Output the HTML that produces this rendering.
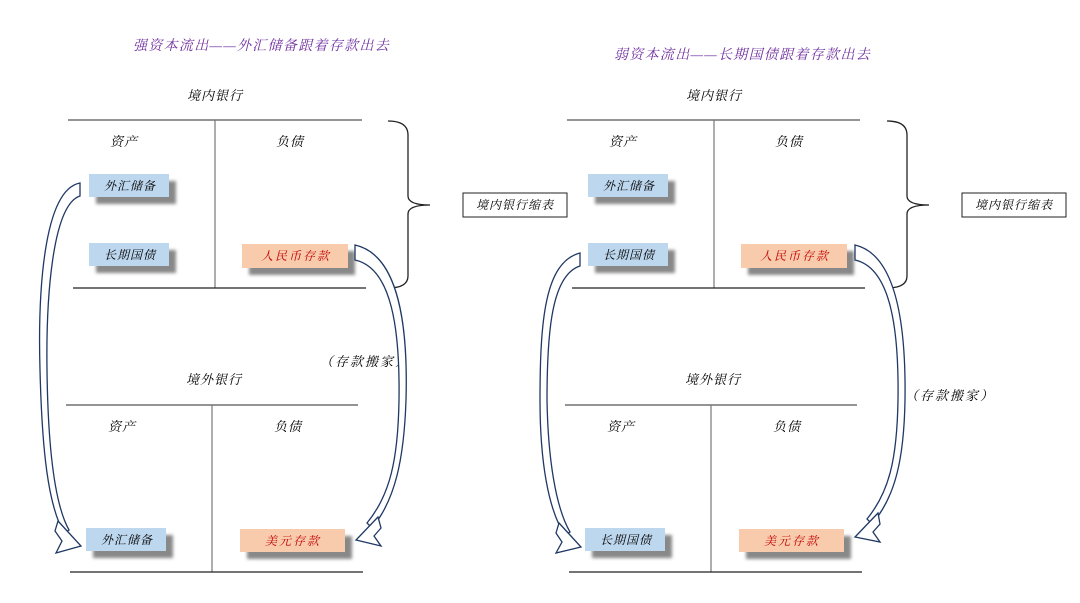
<!DOCTYPE html>
<html><head><meta charset="utf-8"><style>
html,body{margin:0;padding:0;background:#fff;}
svg text{font-family:"Liberation Serif","Noto Serif CJK SC",serif;font-style:italic;}
</style></head><body>
<svg width="1080" height="598" viewBox="0 0 1080 598" xmlns="http://www.w3.org/2000/svg">
<defs>
<filter id="sh" x="-20%" y="-20%" width="150%" height="170%"><feGaussianBlur stdDeviation="1.5"/></filter>
</defs>

<!-- ===== LEFT PANEL ===== -->
<text x="133" y="50" font-size="14" letter-spacing="1.3" fill="#7030a0">强资本流出——外汇储备跟着存款出去</text>
<text x="215" y="100" font-size="13" letter-spacing="1" text-anchor="middle" fill="#000">境内银行</text>
<line x1="68" y1="120" x2="362" y2="120" stroke="#555" stroke-width="1.2"/>
<line x1="215" y1="120" x2="215" y2="288" stroke="#777" stroke-width="1.2"/>
<line x1="73" y1="288" x2="366" y2="288" stroke="#222" stroke-width="1.2"/>
<text x="124" y="146" font-size="13" letter-spacing="1" text-anchor="middle">资产</text>
<text x="290" y="146" font-size="13" letter-spacing="1" text-anchor="middle">负债</text>

<rect x="96" y="181" width="80" height="23" fill="#888" filter="url(#sh)"/>
<rect x="89" y="174" width="80" height="23" fill="#bdd7ee"/>
<text x="130" y="190" font-size="12" letter-spacing="1" text-anchor="middle">外汇储备</text>
<rect x="96" y="250" width="80" height="23" fill="#888" filter="url(#sh)"/>
<rect x="89" y="243" width="80" height="23" fill="#bdd7ee"/>
<text x="130" y="259" font-size="12" letter-spacing="1" text-anchor="middle">长期国债</text>
<rect x="249" y="251" width="106" height="24" fill="#888" filter="url(#sh)"/>
<rect x="242" y="244" width="106" height="24" fill="#f8cbad"/>
<text x="296" y="260" font-size="12" letter-spacing="2" text-anchor="middle" fill="#c00000">人民币存款</text>

<path d="M388,121 Q408,121 408,135 L408,196 Q408,205 430,205 Q408,205 408,214 L408,276 Q408,288 388,288" fill="none" stroke="#222" stroke-width="1.3"/>
<rect x="463" y="193" width="104" height="24" fill="#fff" stroke="#222" stroke-width="1"/>
<text x="515" y="209" font-size="12" letter-spacing="1" text-anchor="middle">境内银行缩表</text>

<text x="214" y="384" font-size="13" letter-spacing="1" text-anchor="middle">境外银行</text>
<line x1="66" y1="405" x2="358" y2="405" stroke="#555" stroke-width="1.2"/>
<line x1="212" y1="405" x2="212" y2="572" stroke="#777" stroke-width="1.2"/>
<line x1="70" y1="572" x2="363" y2="572" stroke="#222" stroke-width="1.2"/>
<text x="122" y="431" font-size="13" letter-spacing="1" text-anchor="middle">资产</text>
<text x="288" y="431" font-size="13" letter-spacing="1" text-anchor="middle">负债</text>
<rect x="93" y="535" width="80" height="23" fill="#888" filter="url(#sh)"/>
<rect x="86" y="528" width="80" height="23" fill="#bdd7ee"/>
<text x="127" y="544" font-size="12" letter-spacing="1" text-anchor="middle">外汇储备</text>
<rect x="247" y="536" width="105" height="23" fill="#888" filter="url(#sh)"/>
<rect x="240" y="529" width="105" height="23" fill="#f8cbad"/>
<text x="293" y="545" font-size="12" letter-spacing="2" text-anchor="middle" fill="#c00000">美元存款</text>
<text x="365" y="366" font-size="13" letter-spacing="2" text-anchor="middle">（存款搬家）</text>

<!-- left arrow panel 1 -->
<path d="M80,183 C42,190 38,300 40,370 C42,450 48,505 64,533 L69,530 C55,505 48,450 47,370 C46,300 52,205 80,196 Z" fill="#fff" stroke="#1f3864" stroke-width="1.3"/>
<polygon points="58,521 81,546 56,553 62,541 55,531" fill="#fff" stroke="#1f3864" stroke-width="1.3"/>
<!-- right arrow panel 1 -->
<path d="M355,245 C400,255 408,330 406,400 C404,460 395,500 372,528 L367,523 C390,495 398,460 399,400 C400,330 392,268 355,260 Z" fill="#fff" stroke="#1f3864" stroke-width="1.3"/>
<polygon points="378,517 356,540 381,546 374,536 381,528" fill="#fff" stroke="#1f3864" stroke-width="1.3"/>

<!-- ===== RIGHT PANEL ===== -->
<text x="614" y="59" font-size="14" letter-spacing="1.3" fill="#7030a0">弱资本流出——长期国债跟着存款出去</text>
<text x="714" y="100" font-size="13" letter-spacing="1" text-anchor="middle">境内银行</text>
<line x1="567" y1="120" x2="860" y2="120" stroke="#555" stroke-width="1.2"/>
<line x1="714" y1="120" x2="714" y2="288" stroke="#777" stroke-width="1.2"/>
<line x1="572" y1="288" x2="865" y2="288" stroke="#222" stroke-width="1.2"/>
<text x="623" y="146" font-size="13" letter-spacing="1" text-anchor="middle">资产</text>
<text x="789" y="146" font-size="13" letter-spacing="1" text-anchor="middle">负债</text>

<rect x="595" y="181" width="80" height="23" fill="#888" filter="url(#sh)"/>
<rect x="588" y="174" width="80" height="23" fill="#bdd7ee"/>
<text x="629" y="190" font-size="12" letter-spacing="1" text-anchor="middle">外汇储备</text>
<rect x="595" y="250" width="80" height="23" fill="#888" filter="url(#sh)"/>
<rect x="588" y="243" width="80" height="23" fill="#bdd7ee"/>
<text x="629" y="259" font-size="12" letter-spacing="1" text-anchor="middle">长期国债</text>
<rect x="748" y="251" width="106" height="24" fill="#888" filter="url(#sh)"/>
<rect x="741" y="244" width="106" height="24" fill="#f8cbad"/>
<text x="795" y="260" font-size="12" letter-spacing="2" text-anchor="middle" fill="#c00000">人民币存款</text>

<path d="M887,121 Q907,121 907,135 L907,196 Q907,205 929,205 Q907,205 907,214 L907,276 Q907,288 887,288" fill="none" stroke="#222" stroke-width="1.3"/>
<rect x="962" y="193" width="104" height="24" fill="#fff" stroke="#222" stroke-width="1"/>
<text x="1014" y="209" font-size="12" letter-spacing="1" text-anchor="middle">境内银行缩表</text>

<text x="713" y="384" font-size="13" letter-spacing="1" text-anchor="middle">境外银行</text>
<line x1="565" y1="405" x2="857" y2="405" stroke="#555" stroke-width="1.2"/>
<line x1="711" y1="405" x2="711" y2="572" stroke="#777" stroke-width="1.2"/>
<line x1="569" y1="572" x2="862" y2="572" stroke="#222" stroke-width="1.2"/>
<text x="621" y="431" font-size="13" letter-spacing="1" text-anchor="middle">资产</text>
<text x="787" y="431" font-size="13" letter-spacing="1" text-anchor="middle">负债</text>
<rect x="592" y="535" width="80" height="23" fill="#888" filter="url(#sh)"/>
<rect x="585" y="528" width="80" height="23" fill="#bdd7ee"/>
<text x="626" y="544" font-size="12" letter-spacing="1" text-anchor="middle">长期国债</text>
<rect x="746" y="536" width="105" height="23" fill="#888" filter="url(#sh)"/>
<rect x="739" y="529" width="105" height="23" fill="#f8cbad"/>
<text x="792" y="545" font-size="12" letter-spacing="2" text-anchor="middle" fill="#c00000">美元存款</text>
<text x="950" y="400" font-size="13" letter-spacing="2" text-anchor="middle">（存款搬家）</text>

<!-- left arrow panel 2 -->
<path d="M580,253 C545,262 540,320 540,400 C540,460 548,510 565,535 L570,532 C556,508 548,460 547,400 C547,330 552,275 580,266 Z" fill="#fff" stroke="#1f3864" stroke-width="1.3"/>
<polygon points="559,523 581,547 556,553 562,542 556,533" fill="#fff" stroke="#1f3864" stroke-width="1.3"/>
<!-- right arrow panel 2 -->
<path d="M855,245 C898,255 906,330 905,400 C904,460 895,497 872,524 L867,519 C889,492 897,460 898,400 C899,330 891,268 855,260 Z" fill="#fff" stroke="#1f3864" stroke-width="1.3"/>
<polygon points="878,513 855,537 880,542 873,532 880,524" fill="#fff" stroke="#1f3864" stroke-width="1.3"/>
</svg>
</body></html>
